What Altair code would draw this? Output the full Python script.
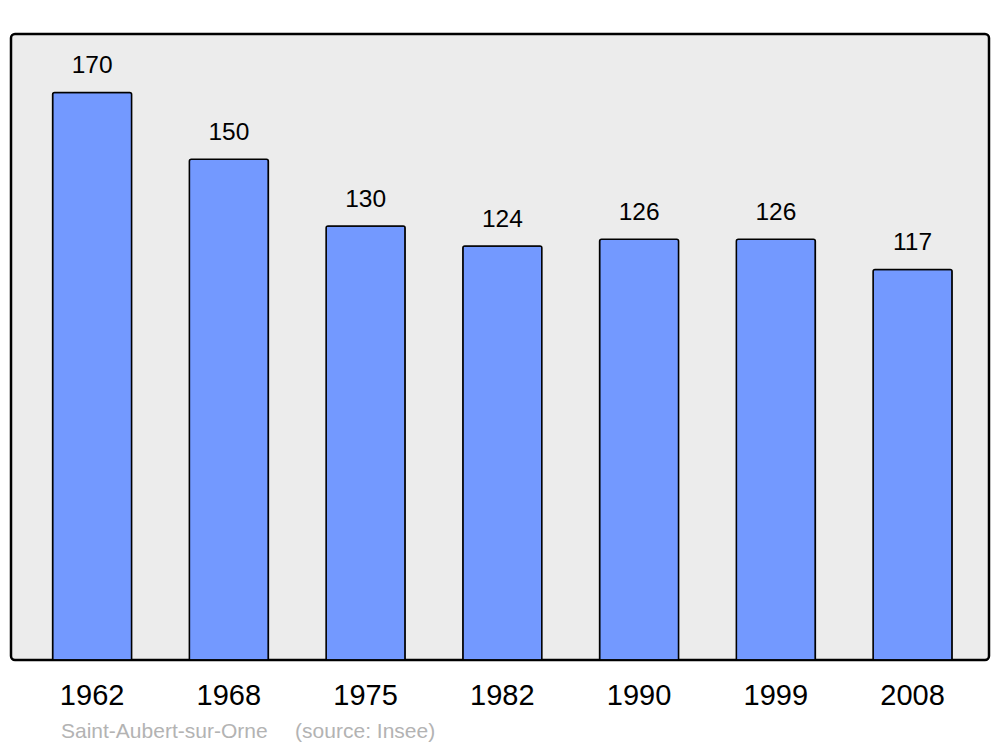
import altair as alt
import pandas as pd

years = ["1962", "1968", "1975", "1982", "1990", "1999", "2008"]
population = [170, 150, 130, 124, 126, 126, 117]

df = pd.DataFrame({"year": years, "pop": population})

x = alt.X("year:N", sort=years, title=None,
          scale=alt.Scale(paddingInner=0.422, paddingOuter=0.287, align=0.53),
          axis=alt.Axis(labelAngle=0, labelFontSize=29, labelFont="Liberation Sans",
                        labelColor="black", domain=False, ticks=False, tickSize=0,
                        labelPadding=21, grid=False))
y = alt.Y("pop:Q", title=None, scale=alt.Scale(domain=[0, 187.5], nice=False, zero=True),
          axis=None)

bars = alt.Chart(df).mark_bar(
    color="#7399ff", stroke="black", strokeWidth=1.5,
    cornerRadiusTopLeft=2, cornerRadiusTopRight=2
).encode(x=x, y=y)

labels = alt.Chart(df).mark_text(
    fontSize=24.5, font="Liberation Sans", color="black", baseline="alphabetic", dy=-19
).encode(x=x, y=y, text="pop:Q")

chart = alt.layer(bars, labels).properties(
    width=978, height=626,
    autosize=alt.AutoSizeParams(type="none"),
    padding={"left": 3, "top": 26, "right": 3, "bottom": 86},
    title=alt.TitleParams(
        text="Saint-Aubert-sur-Orne\u00a0\u00a0\u00a0\u00a0\u2009(source: Insee)",
        orient="bottom", anchor="start", dx=50, offset=11,
        fontSize=21, font="Liberation Sans", fontWeight="normal", color="#b3b3b3"
    )
).configure_view(
    fill="#ececec", stroke="black", strokeWidth=2.5, cornerRadius=4
)

chart.save("out.html", embed_options={"renderer": "svg", "actions": False})
